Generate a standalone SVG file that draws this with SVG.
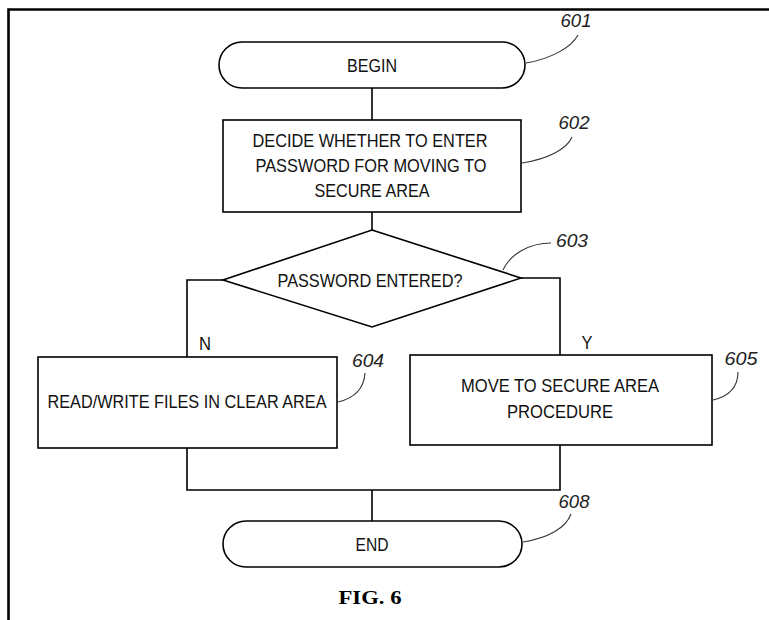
<svg xmlns="http://www.w3.org/2000/svg" width="769" height="620" viewBox="0 0 769 620">
<style>
.s{fill:#fff;stroke:#000;stroke-width:1.6}
.c{fill:none;stroke:#000;stroke-width:1.6}
.l{fill:none;stroke:#333;stroke-width:1.1}
.t{font-family:"Liberation Sans",Arial,sans-serif;font-size:18px;fill:#111;text-anchor:middle}
.n{font-family:"Liberation Sans",Arial,sans-serif;font-size:18px;font-style:italic;fill:#222;text-anchor:middle}
.f{font-family:"Liberation Serif","Times New Roman",serif;font-size:19px;font-weight:bold;fill:#000;text-anchor:middle}
</style>
<rect width="769" height="620" fill="#fff"/>
<path d="M8.5,620 V9.5 H769" fill="none" stroke="#000" stroke-width="2.6"/>
<g id="connectors">
<path class="c" d="M372,88 V120"/>
<path class="c" d="M372,212 V230"/>
<path class="c" d="M223,280 H187 V357"/>
<path class="c" d="M521,278 H560 V355"/>
<path class="c" d="M187,448 V490 H560 V445"/>
<path class="c" d="M372,490 V521"/>
<text class="t" x="205" y="350" textLength="12" lengthAdjust="spacingAndGlyphs">N</text>
<text class="t" x="587" y="349" textLength="11" lengthAdjust="spacingAndGlyphs">Y</text>
</g>
<g id="n601">
<rect class="s" x="219" y="42" width="306" height="46" rx="23"/>
<text class="t" x="372" y="71.5" textLength="50" lengthAdjust="spacingAndGlyphs">BEGIN</text>
<path class="l" d="M526,63 C550,59 571,48 578,35"/>
<text class="n" x="576" y="27" textLength="31" lengthAdjust="spacingAndGlyphs">601</text>
</g>
<g id="n602">
<rect class="s" x="223" y="120" width="298" height="92"/>
<text class="t" x="370" y="146.5" textLength="235" lengthAdjust="spacingAndGlyphs">DECIDE WHETHER TO ENTER</text>
<text class="t" x="371" y="171.5" textLength="231" lengthAdjust="spacingAndGlyphs">PASSWORD FOR MOVING TO</text>
<text class="t" x="372" y="196.5" textLength="115" lengthAdjust="spacingAndGlyphs">SECURE AREA</text>
<path class="l" d="M522,163 C548,159 567,149 572,137"/>
<text class="n" x="574" y="129" textLength="31" lengthAdjust="spacingAndGlyphs">602</text>
</g>
<g id="n603">
<polygon class="s" points="372,230 521,278 372,327 223,280"/>
<text class="t" x="370" y="286.5" textLength="185" lengthAdjust="spacingAndGlyphs">PASSWORD ENTERED?</text>
<path class="l" d="M503,270 C510,254 530,243 551,243"/>
<text class="n" x="572" y="247" textLength="32" lengthAdjust="spacingAndGlyphs">603</text>
</g>
<g id="n604">
<rect class="s" x="38" y="357" width="299" height="91"/>
<text class="t" x="187" y="408" textLength="279" lengthAdjust="spacingAndGlyphs">READ/WRITE FILES IN CLEAR AREA</text>
<path class="l" d="M338,402 C355,398 364,388 365,373"/>
<text class="n" x="368" y="367" textLength="32" lengthAdjust="spacingAndGlyphs">604</text>
</g>
<g id="n605">
<rect class="s" x="410" y="355" width="302" height="90"/>
<text class="t" x="560" y="391.5" textLength="198" lengthAdjust="spacingAndGlyphs">MOVE TO SECURE AREA</text>
<text class="t" x="560" y="417.5" textLength="106" lengthAdjust="spacingAndGlyphs">PROCEDURE</text>
<path class="l" d="M713,400 C730,396 738,386 738,372"/>
<text class="n" x="741" y="365" textLength="33" lengthAdjust="spacingAndGlyphs">605</text>
</g>
<g id="n608">
<rect class="s" x="223" y="521" width="299" height="46" rx="23"/>
<text class="t" x="372" y="550.5" textLength="33" lengthAdjust="spacingAndGlyphs">END</text>
<path class="l" d="M523,542 C548,538 566,528 571,514"/>
<text class="n" x="574" y="508" textLength="31" lengthAdjust="spacingAndGlyphs">608</text>
</g>
<text class="f" x="370" y="604" textLength="63" lengthAdjust="spacingAndGlyphs">FIG. 6</text>
</svg>
